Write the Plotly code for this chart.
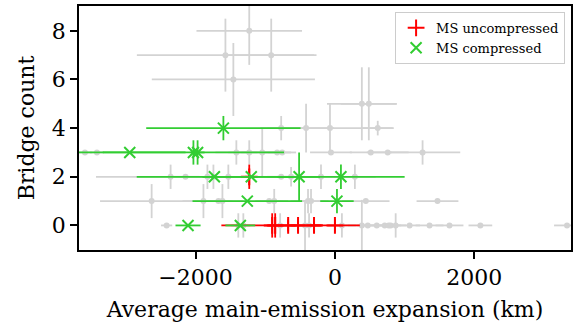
import plotly.graph_objects as go

# Background (grey) measurements
grey_x = [-1229, -1571, -914, -1457, 386, 486,
          -771, -414, -71, 614,
          -3586, -3414, -1414, -1229, -1043, -829, -757, -57, 514, 757, 1257,
          -2357, -2143, -1829, -1743, -1529, -771, -629, -200, 286,
          -2629, -1886, -1671, -1614, -943, -871, -386, -343, 443, 1471,
          -2414, -1386, -1314, -786, -429, -371, 100, 386, 471, 600, 714, 771, 800, 871, 1071, 1357, 1643, 2086, 3329]
grey_y = [8, 7, 7, 6, 5, 5,
          4, 4, 4, 4,
          3, 3, 3, 3, 3, 3, 3, 3, 3, 3, 3,
          2, 2, 2, 2, 2, 2, 2, 2, 2,
          1, 1, 1, 1, 1, 1, 1, 1, 1, 1,
          0, 0, 0, 0, 0, 0, 0, 0, 0, 0, 0, 0, 0, 0, 0, 0, 0, 0, 0]
grey_xerr = [757, 1270, 650, 1170, 500, 400,
             300, 400, 900, 230,
             100, 100, 300, 300, 300, 200, 200, 300, 300, 300, 540,
             1070, 200, 300, 300, 300, 200, 200, 300, 300,
             740, 300, 200, 300, 200, 200, 250, 250, 340, 300,
             80, 100, 100, 150, 150, 150, 200, 200, 150, 150, 150, 150, 150, 150, 150, 200, 200, 170, 186]
grey_yerr = [1.4, 1.5, 1.5, 1.5, 1.5, 1.5,
             0.5, 1.0, 1.0, 0.3,
             0, 0, 0.5, 0.5, 1.0, 0, 0, 0, 0, 0, 0.5,
             0.5, 0, 0.5, 0.5, 0.5, 0, 0.4, 0.5, 0.5,
             0.7, 0.7, 0, 0.7, 0, 0.5, 0.5, 0.5, 0, 0,
             0, 0.5, 0.5, 0.5, 1.05, 0.5, 0.5, 1.05, 0, 0, 0, 0, 0, 0.5, 0, 0, 0, 0, 0]

# MS uncompressed (red)
unc_x = [-900, -857, -671, -529, -300, 0, -1229]
unc_y = [0, 0, 0, 0, 0, 0, 2]
unc_xerr = [729, 100, 100, 100, 100, 357, 60]
unc_yerr = [0.5, 0.5, 0.25, 0.25, 0.25, 0.25, 0.5]

# MS compressed (green)
cmp_x = [-1600, -2943, -2030, -1970, -1729, -1200, -514, 86, -1257, 29, -2107, -1357]
cmp_y = [4, 3, 3, 3, 2, 2, 2, 2, 1, 1, 0, 0]
cmp_xerr = [1107, 800, 1300, 100, 1114, 700, 300, 914, 786, 240, 180, 214]
cmp_yerr = [0.5, 0, 0.5, 0.5, 0, 0, 1.0, 0.5, 0, 0.5, 0, 0]

x_ticks = [-2000, 0, 2000]
y_ticks = [0, 2, 4, 6, 8]

GREY = "#d3d3d3"
RED = "#ff0000"
GREEN = "#32cd32"
FONT = "DejaVu Serif"

fig = go.Figure()
fig.add_trace(go.Scatter(
    x=grey_x, y=grey_y, mode="markers", showlegend=False,
    marker=dict(color=GREY, size=6, symbol="circle"),
    error_x=dict(type="data", array=grey_xerr, color=GREY, thickness=1.8, width=0),
    error_y=dict(type="data", array=grey_yerr, color=GREY, thickness=1.8, width=0),
))
fig.add_trace(go.Scatter(
    x=unc_x, y=unc_y, mode="markers", name="MS uncompressed",
    marker=dict(color=RED, size=12, symbol="cross-thin", line=dict(color=RED, width=2)),
    error_x=dict(type="data", array=unc_xerr, color=RED, thickness=1.8, width=0),
    error_y=dict(type="data", array=unc_yerr, color=RED, thickness=1.8, width=0),
))
fig.add_trace(go.Scatter(
    x=cmp_x, y=cmp_y, mode="markers", name="MS compressed",
    marker=dict(color=GREEN, size=11, symbol="x-thin", line=dict(color=GREEN, width=2)),
    error_x=dict(type="data", array=cmp_xerr, color=GREEN, thickness=1.8, width=0),
    error_y=dict(type="data", array=cmp_yerr, color=GREEN, thickness=1.8, width=0),
))

axis_common = dict(
    showgrid=False, zeroline=False, showline=True, linecolor="black", linewidth=1.5,
    mirror=True, ticks="outside", ticklen=7, tickwidth=1.5, tickcolor="black",
    tickfont=dict(family=FONT, size=22, color="black"),
)
fig.update_xaxes(range=[-3671, 3386], tickvals=x_ticks,
                 title=dict(text="Average main-emission expansion (km)",
                            font=dict(family=FONT, size=22, color="black"), standoff=12),
                 **axis_common)
fig.update_yaxes(range=[-1.01, 9.02], tickvals=y_ticks,
                 title=dict(text="Bridge count",
                            font=dict(family=FONT, size=22, color="black"), standoff=11),
                 **axis_common)

fig.update_layout(
    width=577, height=327,
    margin=dict(l=79, r=4, t=4, b=77),
    plot_bgcolor="white", paper_bgcolor="white",
    font=dict(family=FONT, color="black"),
    legend=dict(x=0.988, y=0.976, xanchor="right", yanchor="top",
                bgcolor="white", bordercolor="#cccccc", borderwidth=1,
                font=dict(family=FONT, size=13, color="black"),
                itemwidth=30, tracegroupgap=0),
)

fig.write_html("out.html")
